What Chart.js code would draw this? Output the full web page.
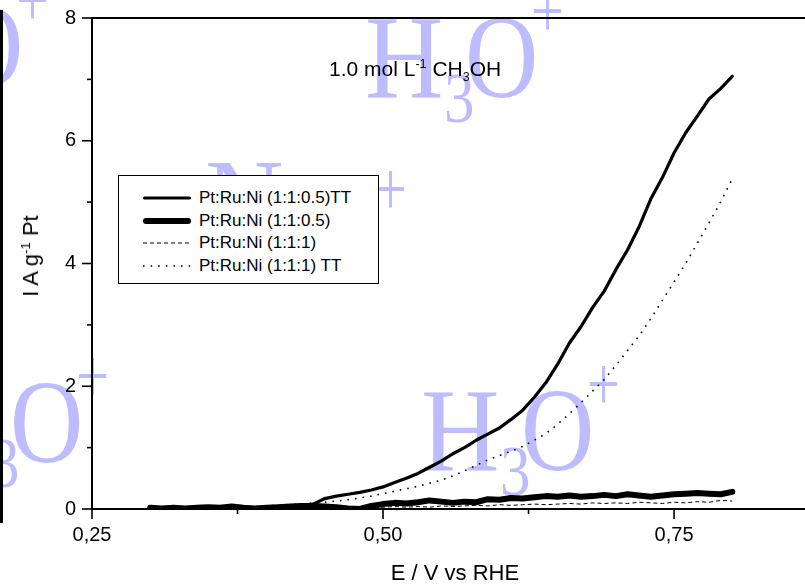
<!DOCTYPE html>
<html>
<head>
<meta charset="utf-8">
<script src="https://cdn.jsdelivr.net/npm/chart.js@4.4.1/dist/chart.umd.min.js"></script>
<style>
html,body{margin:0;padding:0;background:#fff;}
#wrap{position:relative;width:805px;height:586px;overflow:hidden;font-family:'Liberation Sans',Arial,sans-serif;color:#000;}
#c{position:absolute;left:0;top:0;}
#legend{position:absolute;left:118px;top:175px;width:261px;height:109px;box-sizing:border-box;border:1px solid #000;background:#fff;}
.row{position:absolute;left:23px;height:20px;display:flex;align-items:center;white-space:nowrap;font-size:17px;}
.row svg{display:block;margin-right:7px;}
#ytitle{position:absolute;left:31px;top:256px;transform:translate(-50%,-50%) rotate(-90deg);font-size:22px;white-space:nowrap;}
#xtitle{position:absolute;left:455px;top:573px;transform:translate(-50%,-50%);font-size:22px;white-space:nowrap;}
#note{position:absolute;left:329px;top:57px;font-size:21px;white-space:nowrap;}
sup,sub{font-size:0.6em;line-height:0;}
</style>
</head>
<body>
<div id="wrap">
<canvas id="c" width="805" height="586"></canvas>
<div id="legend"></div>
<div id="ytitle">I A g<sup>-1</sup> Pt</div>
<div id="xtitle">E / V vs RHE</div>
<div id="note">1.0 mol L<sup>-1</sup> CH<sub>3</sub>OH</div>
</div>
<script>
// ---- data ----
const potential = [0.30,0.31,0.32,0.33,0.34,0.35,0.36,0.37,0.38,0.39,
  0.40,0.41,0.42,0.43,0.44,0.45,0.46,0.47,0.48,0.49,
  0.50,0.51,0.52,0.53,0.54,0.55,0.56,0.57,0.58,0.59,
  0.60,0.61,0.62,0.63,0.64,0.65,0.66,0.67,0.68,0.69,
  0.70,0.71,0.72,0.73,0.74,0.75,0.76,0.77,0.78,0.79,0.80];

const seriesNames = ['Pt:Ru:Ni (1:1:0.5)TT','Pt:Ru:Ni (1:1:0.5)','Pt:Ru:Ni (1:1:1)','Pt:Ru:Ni (1:1:1) TT'];

const ni05TT = [0.02,0.01,0.02,0.02,0.03,0.02,0.03,0.02,0.03,0.02,
  0.03,0.04,0.04,0.05,0.08,0.17,0.21,0.24,0.27,0.31,
  0.36,0.43,0.50,0.58,0.68,0.78,0.90,1.00,1.12,1.22,
  1.32,1.46,1.61,1.82,2.06,2.36,2.70,2.97,3.28,3.55,
  3.90,4.22,4.60,5.05,5.40,5.80,6.13,6.40,6.68,6.85,7.05];

const ni05 = [0.02,0.01,0.02,0.01,0.02,0.03,0.02,0.04,0.02,0.01,
  0.02,0.03,0.04,0.05,0.05,0.04,0.03,0.01,0.00,0.05,
  0.08,0.10,0.09,0.11,0.14,0.12,0.10,0.12,0.11,0.16,
  0.15,0.18,0.17,0.19,0.21,0.20,0.22,0.20,0.21,0.23,
  0.21,0.24,0.22,0.20,0.22,0.24,0.25,0.26,0.25,0.24,0.28];

const ni1 = [0.00,0.01,0.00,0.01,0.01,0.00,0.01,0.01,0.02,0.01,
  0.01,0.02,0.01,0.02,0.02,0.03,0.02,0.03,0.02,0.03,
  0.03,0.04,0.03,0.04,0.03,0.05,0.04,0.05,0.06,0.05,
  0.07,0.06,0.07,0.08,0.07,0.08,0.09,0.08,0.10,0.09,
  0.10,0.09,0.11,0.10,0.09,0.11,0.10,0.12,0.11,0.14,0.13];

const ni1TT = [0.01,0.01,0.01,0.02,0.02,0.02,0.02,0.03,0.03,0.04,
  0.05,0.06,0.07,0.08,0.10,0.11,0.13,0.15,0.18,0.21,
  0.25,0.29,0.33,0.37,0.42,0.47,0.54,0.62,0.71,0.80,
  0.87,0.94,1.02,1.12,1.23,1.38,1.55,1.73,1.92,2.11,
  2.34,2.58,2.82,3.10,3.40,3.70,4.00,4.33,4.66,5.00,5.38];

const xTickLabels = ['0,25','0,50','0,75'];
const yTickLabels = ['0','2','4','6','8'];

// ---- chart ----
const pts = arr => potential.map((x,i)=>({x:x, y:arr[i]}));
const FONT = "'Liberation Sans', Arial, sans-serif";
Chart.defaults.font.family = FONT;
Chart.defaults.color = '#000';

function glyph(ctx, ch, size, x, y, sx){
  ctx.save(); ctx.translate(x,y); ctx.scale(sx,1);
  ctx.font = size + "px 'Liberation Serif', 'Times New Roman', serif";
  ctx.fillText(ch,0,0); ctx.restore();
}
function h3o(ctx, x, b){
  glyph(ctx,'H',118,x,b,0.92);
  glyph(ctx,'3',72,x+79,b+25,0.85);
  glyph(ctx,'O',118,x+100,b,0.86);
  glyph(ctx,'+',78,x+166,b-60,0.75);
}

const decor = {
  id:'decor',
  beforeDraw(chart){
    const ctx = chart.ctx;
    ctx.save();
    ctx.fillStyle = '#bcbcff';
    ctx.textBaseline = 'alphabetic';
    h3o(ctx, 421, 470);
    h3o(ctx, 365, 97);
    h3o(ctx, -150, 86);
    h3o(ctx, -90, 462);
    glyph(ctx,'N',118,205,241,0.92);
    glyph(ctx,'a',118,290,241,0.92);
    glyph(ctx,'+',78,374,215,0.75);
    ctx.restore();
  },
  afterDraw(chart){
    const ctx = chart.ctx, xs = chart.scales.x, ys = chart.scales.y, a = chart.chartArea;
    ctx.save();
    ctx.strokeStyle = '#000';
    // top frame line
    ctx.lineWidth = 2;
    ctx.beginPath(); ctx.moveTo(a.left, a.top); ctx.lineTo(chart.width, a.top); ctx.stroke();
    ctx.lineWidth = 1.6;
    xs.ticks.forEach(t=>{
      const p = xs.getPixelForValue(t.value);
      const len = t.label ? 10 : 5;
      ctx.beginPath(); ctx.moveTo(p, a.bottom); ctx.lineTo(p, a.bottom+len); ctx.stroke();
    });
    ys.ticks.forEach(t=>{
      const p = ys.getPixelForValue(t.value);
      const len = t.label ? 10 : 5;
      ctx.beginPath(); ctx.moveTo(a.left, p); ctx.lineTo(a.left-len, p); ctx.stroke();
    });
    ctx.fillStyle = '#000';
    ctx.fillRect(0, 10, 3, 513);
    ctx.restore();
  }
};

const isMajor = (v, step) => Math.abs(v/step - Math.round(v/step)) < 1e-6;
const noPad = (s) => { s.paddingTop = 0; s.paddingBottom = 0; s.paddingLeft = 0; s.paddingRight = 0; };

const chart = new Chart(document.getElementById('c'), {
  type:'line',
  data:{
    datasets:[
      {label:seriesNames[0], data:pts(ni05TT), borderColor:'#000', borderWidth:3.2, borderCapStyle:'round', borderJoinStyle:'round', pointRadius:0, tension:0},
      {label:seriesNames[1], data:pts(ni05), borderColor:'#000', borderWidth:6, borderCapStyle:'round', borderJoinStyle:'round', pointRadius:0, tension:0},
      {label:seriesNames[2], data:pts(ni1), borderColor:'#000', borderWidth:1, borderDash:[4,3], borderCapStyle:'butt', pointRadius:0, tension:0},
      {label:seriesNames[3], data:pts(ni1TT), borderColor:'#000', borderWidth:1.6, borderDash:[1.6,6], borderCapStyle:'butt', pointRadius:0, tension:0}
    ]
  },
  options:{
    responsive:false,
    animation:false,
    devicePixelRatio:1,
    layout:{autoPadding:false, padding:{left:0,right:0,top:18,bottom:0}},
    plugins:{legend:{display:false}, tooltip:{enabled:false}},
    scales:{
      x:{type:'linear', position:'bottom', min:0.25, max:0.8625,
        grid:{display:false, drawTicks:false},
        border:{display:true, color:'#000', width:2},
        ticks:{stepSize:0.125, autoSkip:false, includeBounds:false, maxRotation:0, padding:14,
          font:{size:20, family:FONT}, color:'#000',
          callback:(v)=> isMajor(v-0.25,0.25) ? xTickLabels[Math.round((v-0.25)/0.25)] : ''},
        afterFit:(s)=>{ s.height = 77; noPad(s); }
      },
      y:{type:'linear', position:'left', min:0, max:8,
        grid:{display:false, drawTicks:false},
        border:{display:true, color:'#000', width:2},
        ticks:{stepSize:1, autoSkip:false, padding:16, font:{size:20, family:FONT}, color:'#000',
          callback:(v)=> isMajor(v,2) ? yTickLabels[Math.round(v/2)] : ''},
        afterFit:(s)=>{ s.width = 92; noPad(s); }
      }
    }
  },
  plugins:[decor]
});

// ---- HTML legend built from the datasets ----
const leg = document.getElementById('legend');
const rowCenters = [22, 45, 67, 90];
chart.data.datasets.forEach((ds,i)=>{
  const row = document.createElement('div');
  row.className = 'row';
  row.style.top = (rowCenters[i]-10) + 'px';
  const dash = (ds.borderDash||[]).join(',');
  const cap = ds.borderCapStyle || 'butt';
  const x1 = cap==='round' ? 1 + ds.borderWidth/2 : 1;
  const x2 = cap==='round' ? 49 - ds.borderWidth/2 : 49;
  row.innerHTML = '<svg width="50" height="12"><line x1="'+x1+'" y1="6" x2="'+x2+'" y2="6" stroke="#000" stroke-width="'+ds.borderWidth+'"'+(dash?' stroke-dasharray="'+dash+'"':'')+' stroke-linecap="'+cap+'"/></svg><span></span>';
  row.querySelector('span').textContent = ds.label;
  leg.appendChild(row);
});
</script>
</body>
</html>
